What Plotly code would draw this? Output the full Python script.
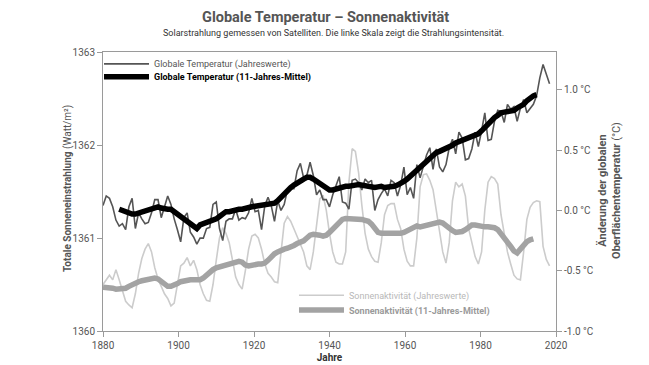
import plotly.graph_objects as go

# ---------------- data ----------------
temp_years = list(range(1880, 2019))
temp_annual = [
    0.04, 0.12, 0.10, 0.03, -0.08, -0.13, -0.11, -0.16, 0.03, 0.10,
    -0.15, -0.02, -0.07, -0.11, -0.10, -0.02, 0.09, 0.09, -0.06, 0.03,
    0.12, 0.05, -0.07, -0.16, -0.26, -0.06, -0.02, -0.18, -0.22, -0.28,
    -0.23, -0.23, -0.15, -0.14, 0.05, 0.07, -0.15, -0.25, -0.09, -0.07,
    -0.07, 0.01, -0.08, -0.06, -0.07, -0.02, 0.10, -0.01, 0.00, -0.16,
    0.04, 0.11, 0.04, -0.09, 0.08, 0.00, 0.05, 0.17, 0.18, 0.18,
    0.33, 0.39, 0.27, 0.29, 0.40, 0.29, 0.13, 0.17, 0.09, 0.09,
    0.03, 0.13, 0.21, 0.28, 0.07, 0.06, 0.01, 0.25, 0.26, 0.23,
    0.17, 0.26, 0.23, 0.25, 0.00, 0.09, 0.14, 0.18, 0.12, 0.25,
    0.23, 0.12, 0.21, 0.36, 0.13, 0.19, 0.10, 0.38, 0.27, 0.36,
    0.46, 0.52, 0.34, 0.51, 0.36, 0.32, 0.38, 0.52, 0.59, 0.47,
    0.65, 0.60, 0.42, 0.43, 0.51, 0.65, 0.53, 0.66, 0.81, 0.58,
    0.59, 0.74, 0.83, 0.82, 0.73, 0.88, 0.84, 0.86, 0.74, 0.85,
    0.92, 0.81, 0.85, 0.88, 0.95, 1.10, 1.21, 1.12, 1.05,
]

temp_mean_years = list(range(1885, 2015))
temp_mean = [
    0.01, 0.00, -0.01, -0.03, -0.03,
    -0.03, -0.02, -0.01, 0.00, 0.01, 0.02, 0.03, 0.03, 0.02, 0.01,
    0.01, 0.01, -0.01, -0.03, -0.05, -0.07, -0.09, -0.11, -0.14, -0.15,
    -0.12, -0.11, -0.11, -0.10, -0.08, -0.07, -0.05, -0.03, -0.01, -0.01,
    0.00, 0.00, 0.01, 0.01, 0.02, 0.02, 0.03, 0.035, 0.04, 0.04,
    0.045, 0.05, 0.05, 0.06, 0.08, 0.11, 0.14, 0.17, 0.19, 0.21,
    0.23, 0.25, 0.26, 0.275, 0.275, 0.26, 0.24, 0.22, 0.20, 0.18,
    0.17, 0.17, 0.18, 0.19, 0.19, 0.20, 0.20, 0.21, 0.21, 0.215,
    0.21, 0.20, 0.20, 0.20, 0.19, 0.195, 0.20, 0.19, 0.19, 0.19,
    0.20, 0.21, 0.22, 0.24, 0.26, 0.285, 0.31, 0.33, 0.35, 0.38,
    0.41, 0.44, 0.46, 0.48, 0.49, 0.50, 0.51, 0.52, 0.54, 0.56,
    0.57, 0.58, 0.59, 0.60, 0.61, 0.62, 0.635, 0.66, 0.69, 0.72,
    0.74, 0.77, 0.79, 0.81, 0.815, 0.82, 0.82, 0.83, 0.85, 0.86,
    0.88, 0.91, 0.935, 0.95, 0.96,
]

solar_years = list(range(1880, 2019))
solar_annual = [
    1360.50, 1360.55, 1360.60, 1360.55, 1360.66, 1360.55, 1360.42, 1360.32, 1360.28, 1360.25,
    1360.40, 1360.62, 1360.78, 1360.88, 1360.94, 1360.85, 1360.68, 1360.56, 1360.48, 1360.40,
    1360.35, 1360.27, 1360.30, 1360.50, 1360.70, 1360.73, 1360.79, 1360.70, 1360.76, 1360.66,
    1360.50, 1360.40, 1360.33, 1360.32, 1360.50, 1360.76, 1361.00, 1361.11, 1361.05, 1360.95,
    1360.78, 1360.58, 1360.50, 1360.45, 1360.65, 1360.88, 1361.02, 1361.04, 1361.00, 1360.88,
    1360.72, 1360.62, 1360.58, 1360.53, 1360.52, 1360.85, 1361.16, 1361.23, 1361.18, 1361.10,
    1361.02, 1360.95, 1360.85, 1360.70, 1360.66, 1360.85, 1361.16, 1361.42, 1361.46, 1361.30,
    1361.05, 1360.85, 1360.74, 1360.72, 1360.72, 1360.85, 1361.60, 1361.96, 1361.93, 1361.70,
    1361.35, 1361.05, 1360.88, 1360.80, 1360.75, 1360.74, 1360.95, 1361.25, 1361.35, 1361.37,
    1361.37, 1361.20, 1361.10, 1360.88, 1360.75, 1360.70, 1360.70, 1361.00, 1361.55, 1361.68,
    1361.69, 1361.62, 1361.52, 1361.30, 1361.05, 1360.85, 1360.73, 1360.95, 1361.40, 1361.60,
    1361.55, 1361.58, 1361.45, 1361.10, 1360.95, 1360.80, 1360.72, 1360.85, 1361.30, 1361.60,
    1361.66, 1361.64, 1361.58, 1361.25, 1361.05, 1360.85, 1360.72, 1360.60, 1360.56, 1360.55,
    1360.85, 1361.20, 1361.33, 1361.38, 1361.40, 1361.39, 1360.91, 1360.77, 1360.70,
]

solar_mean_years = list(range(1880, 2014))
solar_mean = [
    1360.47, 1360.47, 1360.46, 1360.46, 1360.45, 1360.45, 1360.45, 1360.46, 1360.48, 1360.50,
    1360.51, 1360.53, 1360.54, 1360.55, 1360.56, 1360.57, 1360.57, 1360.56, 1360.53, 1360.50,
    1360.48, 1360.48, 1360.49, 1360.51, 1360.53, 1360.54, 1360.54, 1360.55, 1360.55, 1360.55,
    1360.55, 1360.57, 1360.60, 1360.64, 1360.66, 1360.68, 1360.69, 1360.70, 1360.70, 1360.71,
    1360.72, 1360.74, 1360.75, 1360.74, 1360.71, 1360.70, 1360.71, 1360.71, 1360.72, 1360.72,
    1360.73, 1360.76, 1360.80, 1360.83, 1360.85, 1360.87, 1360.88, 1360.89, 1360.90, 1360.92,
    1360.94, 1360.95, 1360.97, 1361.00, 1361.03, 1361.04, 1361.04, 1361.03, 1361.02, 1361.03,
    1361.06, 1361.10, 1361.14, 1361.18, 1361.20, 1361.21, 1361.21, 1361.20, 1361.20, 1361.21,
    1361.20, 1361.19, 1361.18, 1361.15, 1361.10, 1361.06, 1361.05, 1361.05, 1361.05, 1361.05,
    1361.04, 1361.04, 1361.05, 1361.06, 1361.08, 1361.10, 1361.12, 1361.13, 1361.12, 1361.13,
    1361.14, 1361.15, 1361.16, 1361.17, 1361.17, 1361.16, 1361.13, 1361.10, 1361.08, 1361.06,
    1361.06, 1361.07, 1361.09, 1361.12, 1361.14, 1361.14, 1361.13, 1361.12, 1361.12, 1361.12,
    1361.12, 1361.11, 1361.09, 1361.05, 1361.00, 1360.96, 1360.91, 1360.86, 1360.84, 1360.88,
    1360.93, 1360.96, 1360.98, 1360.99,
]

# tick labels as printed on the reference (seven evenly spaced labels, 2000 absent)
x_ticktext = ["1880", "1900", "1920", "1940", "1960", "1980", "2020"]
x_range = [1880, 2020]
x_tickvals = [x_range[0] + i * (x_range[1] - x_range[0]) / (len(x_ticktext) - 1)
              for i in range(len(x_ticktext))]
left_ticks = [1360, 1361, 1362, 1363]
right_ticks = [-1.0, -0.5, 0.0, 0.5, 1.0]
right_ticktext = ["-1.0 °C", "-0.5 °C", "0.0 °C", "0.5 °C", "1.0 °C"]

FONT = "Roboto, sans-serif"
AX = "#9a9a9a"
TXT = "#555555"

fig = go.Figure()

fig.add_trace(go.Scatter(
    x=solar_years, y=solar_annual, mode="lines", yaxis="y",
    name="Sonnenaktivität (Jahreswerte)",
    line=dict(color="#cccccc", width=1.6), legend="legend3",
))
fig.add_trace(go.Scatter(
    x=solar_mean_years, y=solar_mean, mode="lines", yaxis="y",
    name="<b>Sonnenaktivität (11-Jahres-Mittel)</b>",
    line=dict(color="#a3a3a3", width=5.5), legend="legend4",
))
fig.add_trace(go.Scatter(
    x=temp_years, y=temp_annual, mode="lines", yaxis="y2",
    name="Globale Temperatur (Jahreswerte)",
    line=dict(color="#555555", width=1.6), legend="legend",
))
fig.add_trace(go.Scatter(
    x=temp_mean_years, y=temp_mean, mode="lines", yaxis="y2",
    name="<b>Globale Temperatur (11-Jahres-Mittel)</b>",
    line=dict(color="#000000", width=5.5), legend="legend2",
))

def leg(x, y, color):
    return dict(x=x, y=y, xanchor="left", yanchor="middle",
                bgcolor="rgba(0,0,0,0)", borderwidth=0,
                font=dict(family=FONT, size=9, color=color),
                itemwidth=45)

fig.update_layout(
    width=649, height=365,
    margin=dict(l=95, r=101, t=44, b=40),
    paper_bgcolor="white", plot_bgcolor="white",
    font=dict(family=FONT, size=10, color=TXT),
    showlegend=True,
    legend=leg(-0.0088, 0.9575, "#555555"),
    legend2=leg(-0.0088, 0.911, "#000000"),
    legend3=leg(0.4216, 0.128, "#b8b8b8"),
    legend4=leg(0.4216, 0.075, "#9a9a9a"),
    xaxis=dict(
        range=x_range, tickvals=x_tickvals, ticktext=x_ticktext,
        showgrid=False, zeroline=False,
        showline=True, linecolor=AX, linewidth=1, mirror=True,
        ticks="outside", ticklen=5, tickcolor=AX,
        tickfont=dict(family=FONT, size=10, color=TXT),
        title=dict(text="<b>Jahre</b>", font=dict(family=FONT, size=10, color="#333333"), standoff=3),
    ),
    yaxis=dict(
        range=[1360, 1363], tickvals=left_ticks,
        showgrid=False, zeroline=False,
        showline=True, linecolor=AX, linewidth=1,
        ticks="outside", ticklen=5, tickcolor=AX,
        tickfont=dict(family=FONT, size=10, color=TXT),
    ),
    yaxis2=dict(
        range=[-1.0, 1.314], tickvals=right_ticks, ticktext=right_ticktext,
        overlaying="y", side="right",
        showgrid=False, zeroline=False,
        showline=True, linecolor=AX, linewidth=1,
        ticks="outside", ticklen=5, tickcolor=AX,
        tickfont=dict(family=FONT, size=10, color=TXT),
    ),
    annotations=[
        dict(text="<b>Globale Temperatur – Sonnenaktivität</b>", xref="paper", yref="paper",
             x=0.492, y=1.125, xanchor="center", yanchor="middle", showarrow=False,
             font=dict(family=FONT, size=14.5, color="#555555")),
        dict(text="Solarstrahlung gemessen von Satelliten. Die linke Skala zeigt die Strahlungsintensität.",
             xref="paper", yref="paper", x=0.508, y=1.0676, xanchor="center", yanchor="middle",
             showarrow=False, font=dict(family=FONT, size=9, color="#333333")),
        dict(text="<b>Totale Sonneneinstrahlung</b> (Watt/m²)", xref="paper", yref="paper",
             x=-0.0773, y=0.5125, xanchor="center", yanchor="middle", textangle=-90,
             showarrow=False, font=dict(family=FONT, size=10, color="#555555")),
        dict(text="<b>Änderung der globalen</b><br><b>Oberflächentemperatur</b> (°C)",
             xref="paper", yref="paper", x=1.117, y=0.502, xanchor="center", yanchor="middle",
             textangle=-90, showarrow=False,
             font=dict(family=FONT, size=11, color="#555555")),
    ],
)

fig.write_html("out.html")
